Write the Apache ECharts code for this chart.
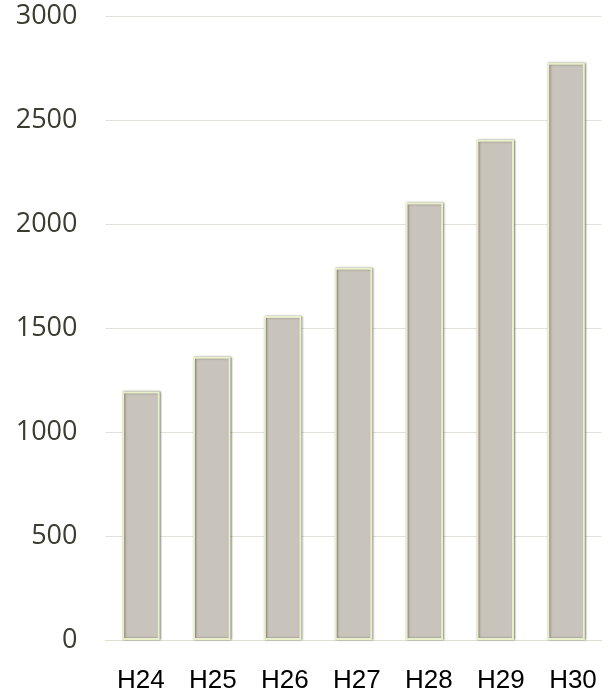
<!DOCTYPE html>
<html><head><meta charset="utf-8">
<script src="https://cdn.jsdelivr.net/npm/echarts@6/dist/echarts.min.js"></script>
<style>html,body{margin:0;padding:0;background:#fff}#c{width:609px;height:696px}</style>
</head><body><div id="c"></div>
<script>
const categories = ['H24','H25','H26','H27','H28','H29','H30'];
const values = [1195, 1362, 1558, 1790, 2103, 2405, 2775];
const yTicks = [0, 500, 1000, 1500, 2000, 2500, 3000];

const chart = echarts.init(document.getElementById('c'), null, {renderer:'canvas'});
chart.setOption({
  animation:false,
  grid:[
    {left:105.5, right:7.5, top:16, bottom:56, containLabel:false},
    {left:104.75, right:-10.25, top:16, bottom:56, containLabel:false}
  ],
  xAxis:[{
    type:'category', data:categories, gridIndex:0,
    axisLine:{show:true, lineStyle:{color:'#dedfd0', width:1}},
    axisTick:{show:false},
    axisLabel:{show:false}
  },{
    type:'category', data:categories, gridIndex:1,
    axisLine:{show:false}, axisTick:{show:false},
    axisLabel:{color:'#000', fontFamily:'Liberation Sans, Arial, sans-serif', fontSize:26, margin:28}
  }],
  yAxis:[{
    type:'value', gridIndex:0, min:yTicks[0], max:yTicks[yTicks.length-1], interval:500,
    axisLine:{show:false}, axisTick:{show:false},
    splitLine:{lineStyle:{color:'#e2e2d8', width:1}},
    axisLabel:{color:'#3b3b30', fontFamily:'Open Sans, Noto Sans, sans-serif', fontSize:27, margin:28,
      formatter:function(v){return String(v);}}
  },{
    type:'value', gridIndex:1, min:0, max:3000, show:false
  }],
  series:[{
    type:'bar', data:values, barWidth:'53%', xAxisIndex:0, yAxisIndex:0,
    itemStyle:{color:'#c8c3bb', borderColor:'#e8efc9', borderWidth:2,
      shadowColor:'rgba(60,60,50,0.55)', shadowBlur:2, shadowOffsetX:1, shadowOffsetY:0}
  }]
});
</script></body></html>
